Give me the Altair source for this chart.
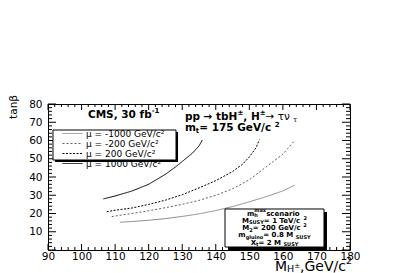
import altair as alt
import pandas as pd

# ---------------- data ----------------
mu_labels = ["μ = -1000 GeV/c²", "μ = -200 GeV/c²", "μ = 200 GeV/c²", "μ = 1000 GeV/c²"]

m1000_x = [111.5, 115, 120, 125, 130, 135, 140, 145, 150, 155, 160, 163.5]
m1000_y = [15.2, 15.6, 16.3, 17.2, 18.4, 19.8, 21.6, 23.8, 26.4, 29.2, 32.4, 35.5]

m200_x = [109, 112, 115, 120, 125, 130, 135, 140, 145, 150, 155, 160, 163.5]
m200_y = [18.3, 19.2, 20.0, 21.5, 23.2, 25.0, 27.2, 30.0, 33.5, 38.5, 45.5, 52.5, 60.0]

p200_x = [107.5, 110, 115, 120, 125, 130, 135, 140, 145, 148, 150, 152, 153]
p200_y = [21.0, 21.8, 23.0, 25.0, 27.3, 30.3, 34.0, 38.0, 43.0, 47.0, 51.0, 56.0, 60.5]

p1000_x = [106.5, 110, 115, 120, 125, 128, 130, 133, 135, 136]
p1000_y = [28.0, 29.6, 32.3, 36.0, 41.5, 45.5, 48.5, 53.0, 57.0, 60.3]

x_major = list(range(90, 181, 10))
x_minor = [v for v in range(90, 181, 2) if v % 10]
y_major = list(range(0, 81, 10))
y_labels = list(range(10, 81, 10))
y_minor = [v for v in range(0, 81, 2) if v % 10]

rows = []
for lab, xs_, ys_ in zip(mu_labels, [m1000_x, m200_x, p200_x, p1000_x],
                         [m1000_y, m200_y, p200_y, p1000_y]):
    for a, b in zip(xs_, ys_):
        rows.append({"mu": lab, "mH": a, "tanb": b})
df = pd.DataFrame(rows)

FONT = "DejaVu Sans"
XS = alt.Scale(domain=[90, 180], nice=False, zero=False)
YS = alt.Scale(domain=[0, 80], nice=False, zero=False)
W, H = 302, 146
PXX = W / 90.0   # pixels per GeV
PXY = H / 80.0   # pixels per tan(beta) unit

AX = alt.Axis(values=x_major, title=None, ticks=False, domain=False, grid=False,
              labelPadding=1, labelFlush=False, labelOverlap=False, labelFontSize=10.5,
              labelFont=FONT, labelColor="black")
AY = alt.Axis(values=y_labels, title=None, ticks=False, domain=False, grid=False,
              labelPadding=6, labelFlush=False, labelOverlap=False, labelFontSize=10.5,
              labelFont=FONT, labelColor="black")

# ---- inside ticks on all four sides (ROOT style) ----
xt = []
for vals, ln in ((x_major, 6), (x_minor, 3)):
    for v in vals:
        xt.append({"tv": v, "t0": 0.0, "t1": ln / PXY})
        xt.append({"tv": v, "t0": 80.0, "t1": 80.0 - ln / PXY})
yt = []
for vals, ln in ((y_major, 8), (y_minor, 4)):
    for v in vals:
        yt.append({"sv": v, "s0": 90.0, "s1": 90.0 + ln / PXX})
        yt.append({"sv": v, "s0": 180.0, "s1": 180.0 - ln / PXX})

ticks_x = alt.Chart(pd.DataFrame(xt)).mark_rule(color="black", strokeWidth=1).encode(
    x=alt.X("tv:Q", scale=XS, axis=AX),
    y=alt.Y("t0:Q", scale=YS, axis=AY), y2=alt.Y2("t1"))
ticks_y = alt.Chart(pd.DataFrame(yt)).mark_rule(color="black", strokeWidth=1).encode(
    y=alt.Y("sv:Q", scale=YS, axis=AY),
    x=alt.X("s0:Q", scale=XS, axis=AX), x2=alt.X2("s1"))

legend = alt.Legend(title=None, orient="none", legendX=20, legendY=25,
                    symbolType="M-5,0H5", symbolSize=16, labelFontSize=9,
                    labelFont=FONT, labelColor="black", padding=0, rowPadding=-1.4,
                    labelOffset=9)

curves = alt.Chart(df).mark_line().encode(
    x=alt.X("mH:Q", scale=XS, axis=AX),
    y=alt.Y("tanb:Q", scale=YS, axis=AY),
    color=alt.Color("mu:N", scale=alt.Scale(domain=mu_labels,
                    range=["#8a8a8a", "#606060", "black", "black"]), legend=legend),
    strokeDash=alt.StrokeDash("mu:N", scale=alt.Scale(domain=mu_labels,
                    range=[[1, 0], [2, 2], [2, 1.5], [1, 0]]), legend=legend),
    strokeWidth=alt.StrokeWidth("mu:N", scale=alt.Scale(domain=mu_labels,
                    range=[1, 1, 2.2, 2]), legend=legend),
)

ONE = pd.DataFrame({"one": [0]})


def box(x1, x2, y1, y2, fill, stroke=None):
    kw = {"fill": fill}
    if stroke:
        kw.update(stroke=stroke, strokeWidth=1)
    return alt.Chart(ONE).mark_rect(**kw).encode(
        x=alt.XDatum(x1, scale=XS, axis=AX), x2=alt.X2Datum(x2),
        y=alt.YDatum(y1, scale=YS, axis=AY), y2=alt.Y2Datum(y2))


NB = "\u00a0"
REG = {" ": 318, NB: 318, ",": 318, "-": 361, ".": 318, "/": 337, "=": 838, "C": 698,
       "G": 775, "H": 752, "M": 863, "S": 635, "V": 684, "b": 635, "c": 550,
       "e": 615, "f": 352, "p": 635, "t": 392, "±": 838, "→": 838, "τ": 560,
       "ν": 592, "μ": 636}
BOLD = {" ": 348, NB: 348, ",": 380, "-": 415, ".": 380, "/": 365, "=": 838, "C": 734,
        "G": 821, "H": 837, "M": 995, "S": 720, "T": 682, "U": 812, "V": 774,
        "X": 774, "Y": 724, "a": 675, "b": 716, "c": 593, "e": 678, "f": 435,
        "g": 716, "h": 712, "i": 343, "l": 343, "m": 1042, "n": 712, "o": 687,
        "p": 716, "r": 493, "s": 595, "t": 478, "u": 712, "x": 663, "±": 838,
        "→": 838, "τ": 600, "ν": 650}


def twidth(t, size, bold):
    tab = BOLD if bold else REG
    dig = 696 if bold else 636
    return sum((dig if ch.isdigit() else tab.get(ch, 650)) for ch in t) * size / 1000.0


def seg_text(x0, y0, segs, align="left", pixel=False):
    segs = [s + (True,) if len(s) == 4 else s for s in segs]
    total = sum(twidth(t, s, b) for t, s, dy, b, adv in segs if adv)
    off = 0.0 if align == "left" else (-total / 2 if align == "center" else -total)
    layers = []
    for t, s, dy, b, adv in segs:
        if pixel:
            enc = dict(x=alt.value(x0), y=alt.value(y0))
        else:
            enc = dict(x=alt.XDatum(x0, scale=XS, axis=AX),
                       y=alt.YDatum(y0, scale=YS, axis=AY))
        layers.append(alt.Chart(ONE).mark_text(
            align="left", baseline="alphabetic", dx=off, dy=dy, fontSize=s,
            fontWeight="bold" if b else "normal", font=FONT, color="black", text=t
        ).encode(**enc))
        if adv:
            off += twidth(t, s, b)
    return layers


texts = []
texts += seg_text(101.9, 72.6, [("CMS, 30 fb", 10.5, 0, True), ("-1", 7, -4.5, True)])
texts += seg_text(130.8, 71.5, [("pp" + NB + "→" + NB + "tbH", 10.5, 0, True),
                               ("±", 7, -4.5, True),
                               (", H", 10.5, 0, True), ("±", 7, -4.5, True),
                               (NB + "→" + NB + "τν", 10.5, 0, False), ("τ", 7, 2, False)])
texts += seg_text(130.8, 65.0, [("m", 10.5, 0, True), ("t", 7, 2, True),
                               (" = 175 GeV/c", 10.5, 0, True), ("2", 7, -4.5, True)])
# info box lines
cx = 157.5
texts += seg_text(cx, 18.9, [("m", 7, 0, True), ("h", 5, 1.5, True, False),
                             ("max", 5, -3.5, True), (" scenario", 7, 0, True)], "center")
texts += seg_text(cx, 14.9, [("M", 7, 0, True), ("SUSY", 5, 1.5, True),
                             (" = 1 TeV/c", 7, 0, True), ("2", 5, -3, True)], "center")
texts += seg_text(cx, 10.9, [("M", 7, 0, True), ("2", 5, 1.5, True),
                             (" = 200 GeV/c", 7, 0, True), ("2", 5, -3, True)], "center")
texts += seg_text(cx, 6.9, [("m", 7, 0, True), ("gluino", 5, 1.5, True),
                            (" = 0.8 M", 7, 0, True), ("SUSY", 5, 1.5, True)], "center")
texts += seg_text(cx, 2.9, [("X", 7, 0, True), ("t", 5, 1.5, True),
                            (" = 2 M", 7, 0, True), ("SUSY", 5, 1.5, True)], "center")
# x axis title (pixel position relative to the plot area)
texts += seg_text(304, 166.5, [("M", 14, 0, False), ("H", 9.5, 1, False),
                               ("±", 7, -3, False), (",GeV/c", 14, 0, False),
                               ("2", 9.5, -6.5, False)], "right", pixel=True)
# y axis title
ytitle = alt.Chart(ONE).mark_text(
    align="right", baseline="alphabetic", angle=270, fontSize=10.5, font=FONT,
    color="black", text="tanβ"
).encode(x=alt.value(-31), y=alt.value(-9))

layers = [ticks_x, ticks_y, curves,
          box(92.1, 128.75, 64.65, 48.2, "black"),
          box(91.49, 128.15, 65.75, 49.32, "white", "black"),
          box(143.64, 173.14, 20.8, 0.0, "black"),
          box(142.75, 172.25, 22.47, 1.64, "white", "black"),
          ytitle] + texts

chart = alt.layer(*layers).properties(
    width=W, height=H,
    padding={"left": 40, "top": 96, "right": 41, "bottom": 23},
    autosize=alt.AutoSizeParams(type="none"),
).configure_view(stroke="black", strokeWidth=1)

chart.save("out.html", embed_options={"renderer": "svg", "actions": False})
